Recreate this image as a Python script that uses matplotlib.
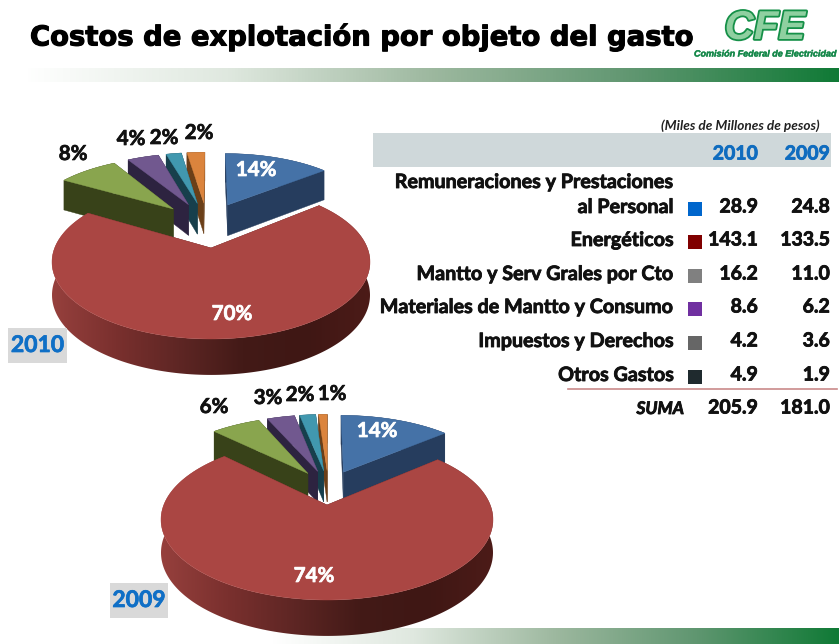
import numpy as np
import matplotlib
matplotlib.use("Agg")
import matplotlib.pyplot as plt
import matplotlib.patheffects as pe
from matplotlib.colors import LinearSegmentedColormap
from matplotlib.patches import Rectangle, Polygon

# datos de la tabla (miles de millones de pesos)
labels = ["al Personal", "Energéticos", "Mantto y Serv Grales por Cto",
          "Materiales de Mantto y Consumo", "Impuestos y Derechos", "Otros Gastos"]
values_2010 = [28.9, 143.1, 16.2, 8.6, 4.2, 4.9]
values_2009 = [24.8, 133.5, 11.0, 6.2, 3.6, 1.9]
total_2010 = 205.9
total_2009 = 181.0
pct_2010 = [14, 70, 8, 4, 2, 2]
pct_2009 = [14, 74, 6, 3, 2, 1]

top_colors = ["#4572a7", "#aa4643", "#89a54e", "#71588f", "#4198af", "#db843d"]
side_colors = ["#263d5e", "#5c2524", "#384219", "#2d2340", "#173f4c", "#6b3f18"]
square_colors = ["#0066cc", "#800000", "#808080", "#7030a0", "#666666", "#1f2a2e"]
red_wall = LinearSegmentedColormap.from_list(
    "red_wall", ["#96403d", "#7a302e", "#5e2624", "#431a17", "#3f1714", "#4c1b18"])
green_bar = LinearSegmentedColormap.from_list(
    "green_bar", ["#ffffff", "#dfe8df", "#9db89f", "#5f9670", "#107a36"])

FONT = "Lato"
K = 0.1818
heavy = [pe.withStroke(linewidth=0.6, foreground="#111111")]

fig = plt.figure(figsize=(8.39, 6.44), dpi=100)
ax = fig.add_axes([0, 0, 1, 1])


def draw_pie(values, cx, cy, rx, ry, explode, thick):
    A = rx * np.sqrt(1 - K ** 2)
    B = ry * (1 - K)

    def proj(u, v):
        w = 1 + K * v
        return cx + A * u / w, cy - B * v / w, thick / np.sqrt(w)

    fracs = np.array(values) / sum(values)
    edges = np.concatenate([[0], np.cumsum(fracs)]) * 2 * np.pi
    mids = (edges[:-1] + edges[1:]) / 2
    ox = -explode * np.sin(mids[1])
    oy = -explode * np.cos(mids[1])
    # de atras hacia adelante
    for i in [5, 4, 3, 0, 2, 1]:
        du = ox + explode * np.sin(mids[i])
        dv = oy + explode * np.cos(mids[i])
        th = np.linspace(edges[i], edges[i + 1], max(8, int(fracs[i] * 300)))
        x, y, d = proj(du + np.sin(th), dv + np.cos(th))
        x0, y0, d0 = proj(du, dv)
        # paredes radiales
        ax.fill([x0, x[0], x[0], x0], [y0, y[0], y[0] + d[0], y0 + d0],
                color=side_colors[i], lw=0.3, zorder=2)
        ax.fill([x0, x[-1], x[-1], x0], [y0, y[-1], y[-1] + d[-1], y0 + d0],
                color=side_colors[i], lw=0.3, zorder=2)
        # pared exterior
        wall = np.column_stack([np.r_[x, x[::-1]], np.r_[y, (y + d)[::-1]]])
        if i == 1:
            im = ax.imshow(np.linspace(0, 1, 256).reshape(1, -1), cmap=red_wall, aspect="auto",
                           extent=(cx - rx, cx + rx, cy + ry + thick * 2, cy - ry), zorder=2)
            im.set_clip_path(Polygon(wall, transform=ax.transData))
        else:
            ax.fill(wall[:, 0], wall[:, 1], color=side_colors[i], lw=0.3, zorder=2)
        ax.fill(np.r_[x0, x], np.r_[y0, y], color=top_colors[i], lw=0.3, zorder=2)


draw_pie(values_2010, 211, 248, 159, 91, 0.34, 32.5)
draw_pie(values_2009, 327, 505, 166, 95, 0.24, 32.5)

# etiquetas de porcentaje
pos_2010 = [(256, 170), (232, 314), (73, 154), (131, 139), (164, 138), (199, 133)]
pos_2009 = [(377, 431), (314, 576), (214, 407), (268, 398), (300, 395), (332, 394)]
for pcts, poss in [(pct_2010, pos_2010), (pct_2009, pos_2009)]:
    for i, p in enumerate(pcts):
        col = "white" if i < 2 else "#111111"
        ax.text(poss[i][0], poss[i][1], "{}%".format(p), family=FONT, fontsize=14.8, weight="bold",
                ha="center", va="center", color=col, zorder=5,
                path_effects=[pe.withStroke(linewidth=0.5, foreground=col)])

# cajas de año
for year, x0, x1, y0, y1 in [("2010", 8, 67, 328, 363), ("2009", 110, 168, 583, 618)]:
    ax.add_patch(Rectangle((x0, y0), x1 - x0, y1 - y0, color="#d9d9d9", lw=0, zorder=3))
    ax.text((x0 + x1) / 2, (y0 + y1) / 2, year, family=FONT, fontsize=16.5, weight="bold",
            ha="center", va="center", color="#0f6fc6", zorder=5,
            path_effects=[pe.withStroke(linewidth=0.5, foreground="#0f6fc6")])

# barras degradadas
grad = np.linspace(0, 1, 256).reshape(1, -1)
ax.imshow(grad, cmap=green_bar, extent=(25, 839, 82, 68), aspect="auto", zorder=1)
ax.imshow(np.linspace(0.1, 1, 256).reshape(1, -1), cmap=green_bar,
          extent=(272, 839, 644, 628), aspect="auto", zorder=1)

# titulo y logo
ax.text(30, 37.5, "Costos de explotación por objeto del gasto", family="DejaVu Sans", fontsize=19.75,
        weight="bold", ha="left", va="center", color="black",
        path_effects=[pe.withStroke(linewidth=0.8, foreground="black")])
ax.text(765, 28, "CFE", family="Liberation Sans", fontsize=29, weight="bold", style="italic",
        ha="center", va="center", color="#8fd0a0",
        path_effects=[pe.withStroke(linewidth=2.6, foreground="#159048")])
ax.text(765, 54, "Comisión Federal de Electricidad", family="Liberation Sans", fontsize=6.5,
        weight="bold", style="italic", ha="center", va="center", color="#15884a",
        path_effects=[pe.withStroke(linewidth=0.3, foreground="#15884a")])

# tabla
ax.add_patch(Rectangle((373, 133), 458, 34, color="#cfd8da", lw=0, zorder=1))
ax.text(820, 126, "(Miles de Millones de pesos)", family=FONT, fontsize=9.8, weight="bold",
        style="italic", ha="right", va="center", color="#222222")
ax.text(758, 154, "2010", family=FONT, fontsize=14, weight="bold", ha="right", va="center",
        color="#0f6cbf", path_effects=[pe.withStroke(linewidth=0.6, foreground="#0f6cbf")])
ax.text(830, 154, "2009", family=FONT, fontsize=14, weight="bold", ha="right", va="center",
        color="#0f6cbf", path_effects=[pe.withStroke(linewidth=0.6, foreground="#0f6cbf")])
ax.text(674, 182, "Remuneraciones y Prestaciones", family=FONT, fontsize=14.2, weight="bold",
        ha="right", va="center", color="#111111", path_effects=heavy)

row_y = [207, 240, 274, 307, 341, 375]
for i, name in enumerate(labels):
    ax.text(674, row_y[i], name, family=FONT, fontsize=14.2, weight="bold", ha="right", va="center",
            color="#111111", path_effects=heavy)
    ax.add_patch(Rectangle((688, row_y[i] - 5), 14, 14, color=square_colors[i], lw=0, zorder=3))
    ax.text(758, row_y[i], "{:.1f}".format(values_2010[i]), family=FONT, fontsize=14, weight="bold",
            ha="right", va="center", color="#111111", path_effects=heavy)
    ax.text(830, row_y[i], "{:.1f}".format(values_2009[i]), family=FONT, fontsize=14, weight="bold",
            ha="right", va="center", color="#111111", path_effects=heavy)

ax.plot([568, 837], [389, 389], color="#c98a8a", lw=1.2)
ax.text(684, 409, "SUMA", family=FONT, fontsize=12.5, weight="bold", style="italic",
        ha="right", va="center", color="#111111", path_effects=heavy)
ax.text(758, 408, "{:.1f}".format(total_2010), family=FONT, fontsize=14, weight="bold",
        ha="right", va="center", color="#111111", path_effects=heavy)
ax.text(830, 408, "{:.1f}".format(total_2009), family=FONT, fontsize=14, weight="bold",
        ha="right", va="center", color="#111111", path_effects=heavy)

ax.set_xlim(0, 839)
ax.set_ylim(644, 0)
ax.axis("off")
fig.savefig("out.png", dpi=100)
